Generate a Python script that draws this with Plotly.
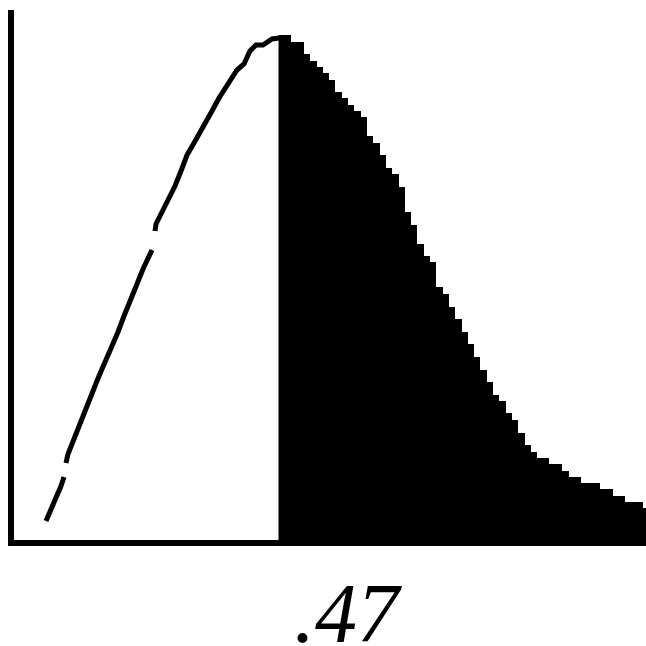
import plotly.graph_objects as go

# Left (unshaded) part of the density curve, with two small breaks (None)
left_x = [32, 35, 41, 47, 50, None,
          52, 54, 60, 66, 73, 79, 85, 91, 98, 104, 110, 117, 123, 129, 136, 138, None,
          141, 142, 148, 155, 161, 167, 173, 180, 186, 192, 198, 205, 211, 217, 223,
          230, 236, 242, 249, 258, 265]
left_y = [19, 26, 38, 54, 63, None,
          77, 86, 101, 117, 133, 149, 164, 177, 193, 208, 224, 240, 256, 271, 284, 290, None,
          309, 316, 328, 341, 354, 369, 385, 397, 407, 417, 429, 442, 451, 461, 470,
          476, 489, 495, 495, 501, 502]

# Right (shaded) tail of the curve
right_x = [265, 277, 290, 296, 303, 309, 315, 321, 328, 334, 340, 347, 353, 359, 366,
           372, 378, 385, 391, 397, 403, 410, 416, 422, 429, 435, 441, 448, 454, 460,
           466, 473, 479, 485, 492, 498, 504, 511, 517, 523, 535, 548, 555, 567, 586,
           599, 611, 629, 632]
right_y = [505, 498, 486, 479, 473, 467, 460, 448, 442, 435, 429, 423, 404, 397, 385,
           372, 366, 353, 328, 315, 296, 284, 278, 253, 246, 233, 221, 208, 196, 183,
           170, 158, 145, 139, 127, 120, 107, 95, 88, 82, 76, 69, 63, 57, 51,
           44, 38, 32, 32]

label = ".47"

fig = go.Figure()
fig.add_trace(go.Scatter(
    x=right_x, y=right_y, mode="lines", line=dict(color="black", width=0, shape="hv"),
    fill="tozeroy", fillcolor="black", hoverinfo="skip"))
fig.add_trace(go.Scatter(
    x=[right_x[0], right_x[0]], y=[0, right_y[0]], mode="lines",
    line=dict(color="black", width=1), hoverinfo="skip"))
fig.add_trace(go.Scatter(
    x=left_x, y=left_y, mode="lines", connectgaps=False,
    line=dict(color="black", width=5), hoverinfo="skip"))

fig.add_annotation(
    text=label, xref="paper", yref="paper", x=(348 - 14) / 632, y=-0.138,
    xanchor="center", yanchor="middle", showarrow=False,
    font=dict(family="Liberation Serif", size=84, color="black", style="italic"))

fig.update_layout(
    width=646, height=646,
    margin=dict(l=14, r=0, t=10, b=106),
    paper_bgcolor="white", plot_bgcolor="white",
    showlegend=False,
    xaxis=dict(range=[0, 632], showline=True, linewidth=6, linecolor="black",
               showgrid=False, zeroline=False, showticklabels=False, ticks=""),
    yaxis=dict(range=[0, 530], showline=True, linewidth=6, linecolor="black",
               showgrid=False, zeroline=False, showticklabels=False, ticks=""),
)

fig.write_html(
    "out.html",
    config={"displayModeBar": False, "staticPlot": True},
    post_script="document.body.style.margin='0';document.body.style.overflow='hidden';",
)
